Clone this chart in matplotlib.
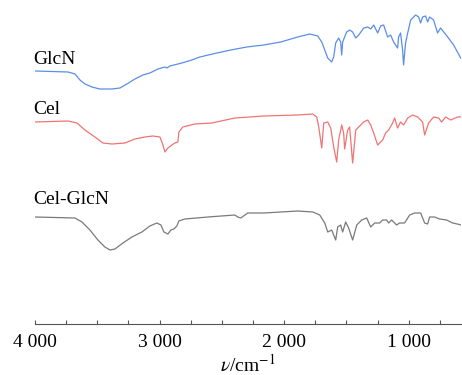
import matplotlib
matplotlib.use("Agg")
import matplotlib.pyplot as plt
from matplotlib.ticker import FixedLocator, MultipleLocator

plt.rcParams['font.family'] = ['Liberation Serif', 'DejaVu Serif']
plt.rcParams['mathtext.fontset'] = 'stix'

# wavenumbers (cm^-1) and relative transmittance (arbitrary units)
glcn_w = [4000, 3735, 3679, 3639, 3599, 3543, 3479, 3382, 3318, 3262, 3198, 3134, 3078, 3013,
          2957, 2941, 2917, 2821, 2741, 2677, 2540, 2428, 2300, 2163, 2027, 1891, 1794, 1730,
          1698, 1674, 1650, 1618, 1602, 1586, 1562, 1546, 1538, 1530, 1498, 1474, 1450, 1425,
          1401, 1361, 1329, 1305, 1281, 1249, 1225, 1201, 1169, 1145, 1121, 1089, 1081, 1065,
          1049, 1041, 1025, 1008, 984, 944, 920, 904, 888, 864, 848, 832, 800, 768, 744, 687,
          639, 583]
glcn_t = [253, 252, 250, 244, 240, 237, 235, 235, 236, 240, 245, 249, 251, 255,
          257, 256, 258, 261, 264, 267, 271, 274, 277, 279, 282, 287, 290, 288,
          282, 274, 266, 262, 267, 281, 286, 282, 269, 282, 292, 294, 292, 286,
          289, 296, 297, 295, 299, 291, 298, 299, 287, 289, 282, 276, 287, 291,
          274, 259, 281, 291, 304, 309, 307, 301, 307, 308, 302, 307, 304, 291, 296, 287,
          279, 266]

cel_w = [4000, 3735, 3663, 3599, 3519, 3455, 3382, 3278, 3198, 3118, 3054, 2997, 2973, 2957,
         2933, 2901, 2877, 2853, 2845, 2813, 2717, 2580, 2396, 2163, 1891, 1770, 1738, 1722,
         1698, 1682, 1650, 1626, 1602, 1578, 1562, 1538, 1522, 1514, 1490, 1474, 1450, 1425,
         1385, 1361, 1329, 1305, 1281, 1249, 1209, 1185, 1161, 1129, 1113, 1089, 1065, 1041,
         1008, 968, 928, 888, 872, 840, 800, 760, 736, 703, 663, 607, 575]
cel_t = [202, 203, 201, 194, 187, 181, 180, 181, 185, 187, 188, 187, 179, 172,
         176, 179, 181, 182, 192, 197, 200, 201, 206, 208, 209, 210, 207, 197,
         176, 201, 202, 196, 177, 162, 184, 199, 191, 175, 194, 197, 161, 194,
         199, 202, 204, 199, 191, 179, 184, 191, 194, 201, 206, 196, 202, 199,
         206, 209, 207, 202, 189, 201, 207, 206, 202, 207, 204, 207, 207]

mix_w = [4000, 3679, 3623, 3559, 3495, 3439, 3398, 3358, 3294, 3222, 3142, 3078, 3022, 2989,
         2965, 2933, 2909, 2885, 2861, 2845, 2797, 2612, 2396, 2372, 2348, 2292, 2163, 1891,
         1770, 1714, 1674, 1650, 1618, 1586, 1570, 1546, 1530, 1506, 1482, 1450, 1417, 1377,
         1337, 1305, 1273, 1233, 1209, 1177, 1161, 1137, 1097, 1073, 1033, 992, 952, 904,
         872, 848, 832, 792, 752, 695, 647, 575]
mix_t = [107, 106, 102, 94, 84, 77, 74, 75, 81, 87, 92, 98, 101, 99,
         92, 90, 94, 95, 98, 103, 105, 107, 109, 107, 106, 111, 111, 113,
         112, 109, 101, 92, 94, 84, 97, 99, 92, 102, 96, 84, 99, 104,
         106, 97, 101, 101, 104, 104, 101, 104, 99, 101, 101, 109, 111, 111,
         101, 100, 107, 107, 105, 104, 101, 99]

names = ['GlcN', 'Cel', 'Cel-GlcN']
colors = ['#5b8ee6', '#f07474', '#7a7a7a']
label_y = [260, 210, 120]

fig = plt.figure(figsize=(4.62, 3.75), dpi=100)
ax = fig.add_axes([35/462, 51/375, 426/462, 324/375])

for w, t, c in zip([glcn_w, cel_w, mix_w], [glcn_t, cel_t, mix_t], colors):
    ax.plot(w, t, color=c, lw=0.9, solid_joinstyle='round')

for n, y in zip(names, label_y):
    ax.text(4018, y, n, fontsize=14, ha='left', va='baseline', color='black')

ax.set_xlim(4000, 580)
ax.set_ylim(0, 324)
for s in ['top', 'left', 'right']:
    ax.spines[s].set_visible(False)
ax.spines['bottom'].set_color('#555555')
ax.spines['bottom'].set_linewidth(0.8)
ax.set_yticks([])

tick_vals = [4000, 3000, 2000, 1000]
tick_labels = ['4 000', '3 000', '2 000', '1 000']
ax.xaxis.set_major_locator(FixedLocator(tick_vals))
ax.set_xticklabels(tick_labels)
ax.xaxis.set_minor_locator(MultipleLocator(250))
ax.tick_params(axis='x', which='both', direction='in', length=3, width=0.8,
               color='#555555', labelsize=14, pad=7)
ax.set_xlabel(r'$\nu$/cm$^{-1}$', fontsize=14, labelpad=2)

fig.savefig('out.png', dpi=100)
